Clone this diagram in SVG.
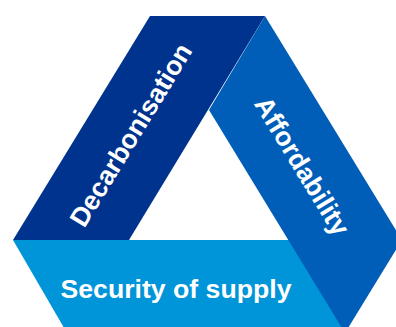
<svg xmlns="http://www.w3.org/2000/svg" width="396" height="327" viewBox="0 0 396 327">
<style>
.lbl{font-family:"Liberation Sans",Arial,sans-serif;font-weight:bold;font-size:26.67px;fill:#ffffff;text-anchor:middle}
</style>
<rect width="396" height="327" fill="#ffffff"/>
<g id="decarbonisation">
<polygon points="150,16 265,16 129,240 13,240" fill="#00338D"/>
<text class="lbl" transform="translate(131,135) rotate(-58.6)" x="0" y="9">Decarbonisation</text>
</g>
<g id="security">
<polygon points="13,240 289,240 346,333 67,333" fill="#0094D9"/>
<text class="lbl" x="176" y="298">Security of supply</text>
</g>
<g id="affordability">
<polygon points="265,16 402,240 345,333 209,110" fill="#005EB8"/>
<text class="lbl" transform="translate(302,166) rotate(58.6)" x="0" y="9">Affordability</text>
</g>
<g id="connectors"/>
</svg>
